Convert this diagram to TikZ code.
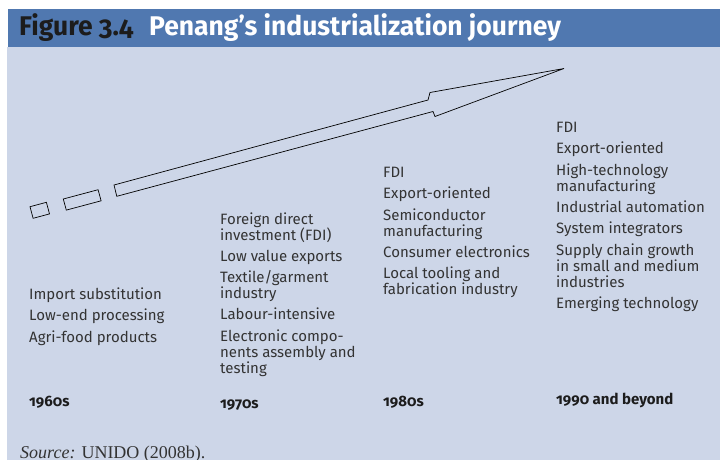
\documentclass[tikz,border=0pt]{standalone}
\usepackage{fontspec}
\setmainfont{Fira Sans}
\newfontfamily\titlefont{Fira Sans}[Numbers=OldStyle,FakeStretch=0.98]
\newfontfamily\yearfont{Fira Sans}[Numbers=OldStyle]
\newfontfamily\srcfont{Liberation Serif}
\definecolor{barblue}{HTML}{5078B0}
\definecolor{panel}{HTML}{CDD6E8}
\definecolor{bodytext}{HTML}{333333}
\definecolor{titledark}{HTML}{1C1C1C}
\tikzset{
  % the base anchor of a multi-line node sits on its last line
  coltext/.style={anchor=base west, inner sep=0pt, align=left, text=bodytext,
    font=\fontsize{15}{16}\selectfont},
  yeartext/.style={anchor=base west, inner sep=0pt, text=titledark,
    font=\yearfont\bfseries\fontsize{15}{16}\selectfont},
  outline/.style={draw=black, line width=0.7pt, line join=miter}
}
\newcommand{\itemgap}{\\[5.3pt]}
\begin{document}
\begin{tikzpicture}[x=1pt,y=-1pt]
\useasboundingbox (0,0) rectangle (720,459);
% background panels
\fill[white] (0,0) rectangle (720,459);
\fill[panel] (7,46.5) rectangle (720,470);
\fill[barblue] (8,9) rectangle (720,46.5);
% title
\node[anchor=base west, inner sep=0pt, text=titledark,
  font=\titlefont\bfseries\fontsize{27}{30}\selectfont] (fig) at (19,35) {Figure 3.4};
\node[anchor=base west, inner sep=0pt, text=white,
  font=\titlefont\bfseries\fontsize{27}{30}\selectfont] (title) at (149,35) {Penang’s industrialization journey};
% growth arrow with two trailing blocks
\draw[outline] (30,206.7) -- (46.4,202.3) -- (49.5,213.9) -- (33.1,218.3) -- cycle;
\draw[outline] (63.3,199) -- (98.1,189.7) -- (101.1,200.8) -- (66.3,210.1) -- cycle;
\draw[outline] (114,185) -- (428,100) -- (430,92.5) -- (564,68.5)
  -- (435,116.5) -- (433,111.5) -- (116.8,196.3) -- cycle;
% column texts
\node[coltext] (c1) at (29,342.1) {Import substitution\itemgap Low-end processing\itemgap Agri-food products};
\node[coltext] (c2) at (220,373.2) {Foreign direct\\investment (FDI)\itemgap Low value exports\itemgap Textile/garment\\industry\itemgap Labour-intensive\itemgap Electronic compo-\\nents assembly and\\testing};
\node[coltext] (c3) at (383,294.7) {FDI\itemgap Export-oriented\itemgap Semiconductor\\manufacturing\itemgap Consumer electronics\itemgap Local tooling and\\fabrication industry};
\node[coltext] (c4) at (556,308.3) {FDI\itemgap Export-oriented\itemgap High-technology\\manufacturing\itemgap Industrial automation\itemgap System integrators\itemgap Supply chain growth\\in small and medium\\industries\itemgap Emerging technology};
% decades
\node[yeartext] (y1) at (29,406) {1960s};
\node[yeartext] (y2) at (220,408) {1970s};
\node[yeartext] (y3) at (383,406) {1980s};
\node[yeartext] (y4) at (556,404) {1990 and beyond};
% source line
\node[anchor=base west, inner sep=0pt, text=bodytext,
  font=\srcfont\fontsize{18}{20}\selectfont] (src) at (20,458) {\textit{Source:} UNIDO (2008b).};
\end{tikzpicture}
\end{document}
